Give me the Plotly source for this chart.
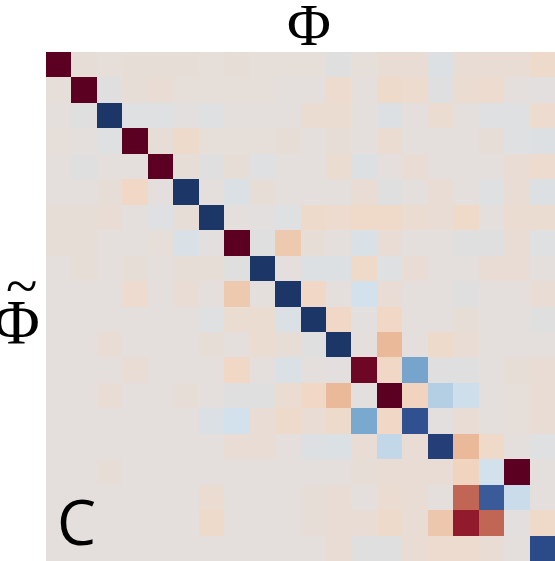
import plotly.graph_objects as go

# column / row indices of the 20x20 matrix
phi_index = list(range(20))
phi_tilde_index = list(range(20))

# matrix values (rows = Phi-tilde modes, columns = Phi modes)
corr = [
    [-1.00, -0.02, -0.01, -0.02, -0.02, -0.02, -0.01, -0.02, -0.01, -0.01, -0.01, 0.02, -0.01, -0.03, -0.03, 0.04, -0.03, -0.03, -0.03, -0.06],
    [-0.01, -1.00, 0.02, -0.02, -0.03, -0.01, -0.01, -0.01, -0.01, 0.00, 0.00, -0.05, 0.00, -0.06, -0.05, 0.02, -0.04, -0.05, 0.00, 0.01],
    [0.00, 0.02, 1.00, 0.03, 0.03, 0.01, 0.03, 0.00, 0.00, 0.00, -0.04, -0.04, 0.00, 0.04, 0.00, -0.04, 0.00, 0.03, 0.03, -0.05],
    [-0.01, 0.00, 0.03, -1.00, -0.02, -0.06, -0.01, -0.01, -0.01, -0.02, 0.00, -0.02, 0.00, -0.04, 0.00, 0.00, 0.00, -0.02, 0.03, 0.04],
    [0.00, 0.02, 0.00, 0.00, -1.00, -0.02, 0.02, -0.02, 0.03, 0.00, 0.00, -0.04, 0.04, 0.00, -0.03, 0.00, 0.00, 0.00, -0.03, -0.05],
    [0.00, 0.00, -0.02, -0.08, 0.00, 1.00, 0.00, 0.05, -0.02, 0.00, 0.00, 0.00, -0.03, 0.02, 0.00, -0.03, 0.00, 0.03, -0.03, 0.04],
    [-0.02, -0.02, -0.03, 0.00, 0.03, -0.02, 1.00, 0.00, 0.01, 0.03, -0.06, -0.05, -0.07, -0.07, -0.04, -0.03, -0.07, 0.00, -0.04, -0.04],
    [-0.02, -0.02, 0.00, 0.00, -0.01, 0.06, 0.01, -1.00, 0.02, -0.15, -0.02, 0.00, 0.06, -0.03, 0.00, 0.00, 0.02, 0.02, -0.03, 0.03],
    [0.00, -0.02, 0.00, -0.02, 0.00, -0.02, -0.02, 0.02, 1.00, 0.00, 0.04, 0.04, -0.07, 0.03, -0.03, 0.00, 0.00, -0.03, -0.03, 0.00],
    [0.00, 0.00, 0.00, -0.05, 0.00, -0.03, 0.00, -0.15, 0.00, 1.00, -0.08, 0.00, 0.10, -0.03, 0.00, 0.00, 0.02, 0.00, 0.00, -0.03],
    [0.00, 0.00, 0.00, 0.00, 0.00, 0.00, 0.03, -0.04, -0.04, 0.05, 1.00, -0.08, 0.01, -0.08, 0.00, 0.00, -0.02, 0.00, 0.00, 0.02],
    [0.00, 0.00, -0.03, 0.00, 0.00, 0.00, -0.02, 0.00, -0.04, -0.02, 0.02, 1.00, 0.00, -0.22, 0.00, -0.06, -0.03, 0.00, 0.00, 0.00],
    [0.00, 0.00, 0.00, -0.03, 0.00, 0.00, 0.00, -0.08, 0.00, 0.05, 0.00, 0.01, -0.93, -0.08, 0.42, 0.02, 0.02, 0.00, -0.02, -0.03],
    [0.00, 0.00, -0.03, 0.00, 0.00, -0.02, 0.00, 0.02, 0.02, -0.04, -0.08, -0.22, 0.01, -1.00, -0.10, 0.25, 0.12, 0.00, -0.01, -0.03],
    [0.00, 0.00, 0.00, 0.00, 0.00, 0.00, 0.05, 0.10, -0.03, -0.06, -0.03, -0.06, 0.40, -0.08, 0.80, 0.01, -0.03, 0.00, -0.01, -0.03],
    [0.00, 0.00, 0.00, 0.00, 0.00, 0.00, 0.00, -0.03, -0.03, 0.00, 0.04, 0.05, -0.03, 0.18, -0.03, 0.93, -0.22, -0.07, 0.00, 0.03],
    [0.00, 0.00, -0.02, 0.00, 0.00, 0.00, 0.00, 0.00, 0.00, 0.00, 0.00, 0.00, -0.02, -0.03, -0.03, -0.03, -0.10, 0.10, -1.00, 0.00],
    [0.00, 0.00, 0.00, 0.00, 0.00, 0.00, -0.04, 0.00, 0.00, 0.00, -0.02, -0.03, 0.00, -0.04, -0.03, 0.00, -0.52, 0.72, 0.14, 0.00],
    [0.00, 0.00, 0.00, 0.00, 0.00, 0.00, -0.06, 0.00, 0.00, 0.00, -0.02, -0.03, -0.03, -0.06, -0.03, -0.16, -0.80, -0.52, 0.01, -0.07],
    [0.00, 0.00, 0.00, 0.00, 0.00, 0.00, 0.00, 0.00, 0.00, 0.00, 0.00, -0.03, 0.02, 0.02, -0.03, -0.05, -0.05, -0.03, 0.00, 0.85],
]

top_label = "Φ"
left_label = "Φ"
left_accent = "~"
panel_label = "C"

colorscale = [
    [0.000, "#5c0021"],
    [0.050, "#760926"],
    [0.100, "#921a2d"],
    [0.240, "#c16654"],
    [0.390, "#e9b99a"],
    [0.460, "#f1d8c6"],
    [0.500, "#e4dfdc"],
    [0.550, "#d2e1ec"],
    [0.625, "#b4cfe4"],
    [0.700, "#7aa9cf"],
    [0.860, "#3a5a9a"],
    [0.925, "#2b4a88"],
    [1.000, "#1d3668"],
]

fig = go.Figure(
    go.Heatmap(
        z=corr,
        x=phi_index,
        y=phi_tilde_index,
        zmin=-1,
        zmax=1,
        colorscale=colorscale,
        showscale=False,
        hoverinfo="skip",
    )
)

W, H = 555, 561
L, T = 46, 52
PW, PH = 509, 509


def px(xp):
    return (xp - L) / PW


def py(yp):
    return (T + PH - yp) / PH


fig.update_layout(
    width=W,
    height=H,
    margin=dict(l=L, r=0, t=T, b=0, autoexpand=False),
    paper_bgcolor="white",
    plot_bgcolor="white",
    xaxis=dict(visible=False, range=[-0.5, 19.5]),
    yaxis=dict(visible=False, range=[19.5, -0.5]),
    showlegend=False,
    annotations=[
        dict(text=top_label, x=px(309), y=py(25), xref="paper", yref="paper",
             showarrow=False, xanchor="center", yanchor="middle",
             font=dict(family="Liberation Serif", size=60, color="black")),
        dict(text=left_label, x=px(16), y=py(323), xref="paper", yref="paper",
             showarrow=False, xanchor="center", yanchor="middle",
             font=dict(family="Liberation Serif", size=64, color="black")),
        dict(text=left_accent, x=px(21), y=py(285), xref="paper", yref="paper",
             showarrow=False, xanchor="center", yanchor="middle",
             font=dict(family="Liberation Serif", size=58, color="black")),
        dict(text=panel_label, x=px(76), y=py(521), xref="paper", yref="paper",
             showarrow=False, xanchor="center", yanchor="middle",
             font=dict(family="Open Sans", size=62, color="black")),
    ],
)

fig.write_html(
    "out.html",
    config={"displayModeBar": False, "staticPlot": True},
    post_script="document.body.style.margin='0';document.body.style.overflow='hidden';",
)
